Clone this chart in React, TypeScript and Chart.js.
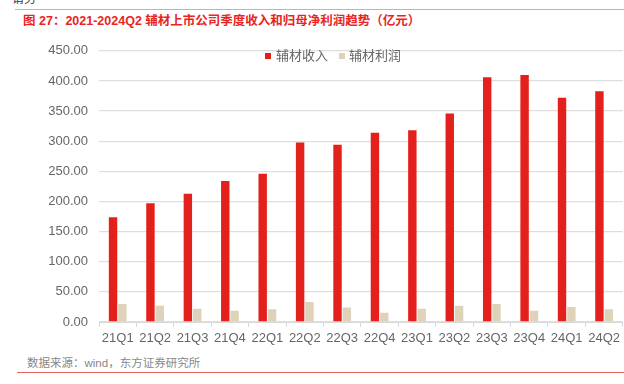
import React, { useEffect, useRef } from "react";
import { Chart, registerables } from "chart.js";

Chart.register(...registerables);

const categories = ["21Q1", "21Q2", "21Q3", "21Q4", "22Q1", "22Q2", "22Q3", "22Q4", "23Q1", "23Q2", "23Q3", "23Q4", "24Q1", "24Q2"];
const revenue = [174, 197, 213, 234, 246, 298, 294, 314, 318, 346, 406, 410, 372, 383];
const profit = [30, 27, 22, 18.5, 21, 33, 24, 15.5, 22, 27, 30, 18.5, 25, 21];
const seriesNames = ["辅材收入", "辅材利润"];
const colors = ["#e3201b", "#ded3ba"];
const title = "图 27：2021-2024Q2 辅材上市公司季度收入和归母净利润趋势（亿元）";
const source = "数据来源：wind，东方证券研究所";

const FONT = '"Liberation Sans", Arial, "Noto Sans CJK SC", sans-serif';

export default function App() {
  const ref = useRef<HTMLCanvasElement | null>(null);

  useEffect(() => {
    if (!ref.current) return;
    const chart = new Chart(ref.current, {
      type: "bar",
      data: {
        labels: categories,
        datasets: [
          { label: seriesNames[0], data: revenue, backgroundColor: colors[0], categoryPercentage: 0.5, barPercentage: 0.9 },
          { label: seriesNames[1], data: profit, backgroundColor: colors[1], categoryPercentage: 0.5, barPercentage: 0.9 },
        ],
      },
      options: {
        responsive: false,
        animation: false,
        layout: { autoPadding: false, padding: { top: 2, right: 0, left: 0, bottom: 0 } },
        plugins: { legend: { display: false }, tooltip: { enabled: false } },
        scales: {
          x: {
            grid: { offset: true, drawOnChartArea: false, drawTicks: true, tickLength: 5, color: "#d9d9d9" },
            border: { display: true, color: "#d9d9d9" },
            ticks: { color: "#666666", font: { family: FONT, size: 13 }, padding: 4, maxRotation: 0, autoSkip: false },
            afterFit: (s: any) => { s.height = 28; },
          },
          y: {
            min: 0,
            max: 450,
            ticks: {
              stepSize: 50,
              color: "#666666",
              font: { family: FONT, size: 13 },
              padding: 11,
              callback: (v: any) => Number(v).toFixed(2),
            },
            grid: { color: "#dedede", lineWidth: 1.3, drawTicks: false },
            border: { display: false },
            afterFit: (s: any) => { s.width = 99; },
          },
        },
      },
    });
    return () => chart.destroy();
  }, []);

  return (
    <div style={{ position: "fixed", left: 0, top: 0, width: 624, height: 384, background: "#fff", overflow: "hidden", fontFamily: FONT }}>
      <div style={{ position: "absolute", left: 12, top: -11, fontSize: 12, color: "#333" }}>请务</div>
      <div style={{ position: "absolute", left: 15, right: 0, top: 9, height: 1, background: "#f0a09c" }} />
      <div style={{ position: "absolute", left: 23, top: 13, fontSize: 12.5, fontWeight: "bold", color: "#e8251e", whiteSpace: "nowrap", lineHeight: "16px" }}>{title}</div>
      <canvas ref={ref} width={624} height={318} style={{ position: "absolute", left: 0, top: 32, width: 624, height: 318 }} />
      <div style={{ position: "absolute", left: 265, top: 48, display: "flex", alignItems: "center", fontSize: 13, color: "#666", whiteSpace: "nowrap", lineHeight: "16px" }}>
        <span style={{ width: 6, height: 6, background: colors[0], display: "inline-block", marginRight: 5 }} />
        <span>{seriesNames[0]}</span>
        <span style={{ width: 6, height: 6, background: colors[1], display: "inline-block", marginLeft: 11, marginRight: 4 }} />
        <span>{seriesNames[1]}</span>
      </div>
      <div style={{ position: "absolute", left: 27, top: 356, fontSize: 11.5, color: "#888", whiteSpace: "nowrap", lineHeight: "14px" }}>{source}</div>
      <div style={{ position: "absolute", left: 17, right: 0, top: 372, height: 1, background: "#e8605a" }} />
    </div>
  );
}
